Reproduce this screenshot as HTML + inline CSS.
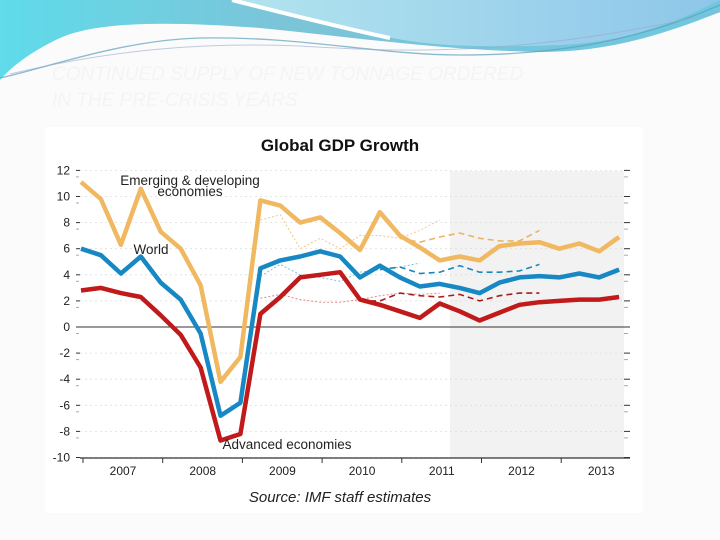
<!DOCTYPE html>
<html><head><meta charset="utf-8">
<style>
html,body{margin:0;padding:0;width:720px;height:540px;overflow:hidden;background:#fbfbfb;font-family:"Liberation Sans",sans-serif;}
#slide{position:relative;width:720px;height:540px;}
svg{position:absolute;left:0;top:0;}
</style></head>
<body>
<div id="slide">
<svg width="720" height="540">
  <defs>
    <linearGradient id="g1" x1="0" y1="0" x2="1" y2="0">
      <stop offset="0" stop-color="#5fdbea"/><stop offset="0.4" stop-color="#7cc4d8"/><stop offset="1" stop-color="#6fc8e0"/>
    </linearGradient>
    <linearGradient id="g2" x1="0" y1="0" x2="1" y2="0">
      <stop offset="0" stop-color="#b2e4ee"/><stop offset="1" stop-color="#8ec6ea"/>
    </linearGradient>
  </defs>
  <path d="M0,0 H720 V12 C650,40 600,52 540,52 C440,50 360,38 260,28 C180,22 100,20 60,38 C30,52 10,68 0,80 Z" fill="url(#g1)"/>
  <path d="M235,0 H720 V0 C680,20 630,42 560,45 C480,48 420,46 380,35 C320,20 270,8 235,0 Z" fill="url(#g2)"/>
  <path d="M232,0 C280,12 330,25 390,38" stroke="#fff" stroke-width="4" fill="none"/>
  <path d="M0,78 C40,70 120,40 200,38 C300,36 380,55 460,55 C560,55 640,40 720,5" stroke="#5aa0b8" stroke-width="1.3" fill="none" opacity="0.7"/>
  <path d="M10,74 C110,50 200,42 300,46 C400,52 520,58 720,12" stroke="#9ac" stroke-width="1" fill="none" opacity="0.6"/>
  <text x="52" y="80" font-size="19" font-style="italic" fill="#f4f4f4">CONTINUED SUPPLY OF NEW TONNAGE ORDERED</text>
  <text x="52" y="106" font-size="19" font-style="italic" fill="#f4f4f4">IN THE PRE-CRISIS YEARS</text>
</svg>
<svg id="chart" width="720" height="540"></svg>
</div>
<script>
const years = ["2007","2008","2009","2010","2011","2012","2013"];
const yTicks = [12,10,8,6,4,2,0,-2,-4,-6,-8,-10];
const emerging = [11.1,9.8,6.3,10.6,7.3,6.0,3.2,-4.2,-2.3,9.7,9.3,8.0,8.4,7.2,5.9,8.8,7.0,6.1,5.1,5.4,5.1,6.2,6.4,6.5,6.0,6.4,5.8,6.9];
const world = [6.0,5.5,4.1,5.4,3.4,2.1,-0.5,-6.8,-5.8,4.5,5.1,5.4,5.8,5.4,3.8,4.7,3.8,3.1,3.3,3.0,2.6,3.4,3.8,3.9,3.8,4.1,3.8,4.4];
const advanced = [2.8,3.0,2.6,2.3,0.9,-0.6,-3.1,-8.7,-8.2,1.0,2.3,3.8,4.0,4.2,2.1,1.7,1.2,0.7,1.8,1.2,0.5,1.1,1.7,1.9,2.0,2.1,2.1,2.3];
const emergingFcStart = 16;
const emergingFc = [6.8,6.5,6.9,7.2,6.8,6.6,6.6,7.4];
const worldFcStart = 15;
const worldFc = [4.4,4.6,4.1,4.2,4.7,4.2,4.2,4.3,4.8];
const advancedFcStart = 14;
const advancedFc = [2.0,2.0,2.6,2.4,2.3,2.5,2.0,2.4,2.6,2.6];
const emergingDotStart = 9;
const emergingDot = [8.2,8.6,6.0,6.8,6.0,7.0,7.0,6.8,7.4,8.2];
const worldDotStart = 9;
const worldDot = [3.9,4.8,4.0,3.8,3.5,4.2,4.4,4.6,4.9];
const advancedDotStart = 9;
const advancedDot = [2.2,2.5,2.1,1.9,1.9,2.1,2.4,2.6,2.5,2.6];

const NS="http://www.w3.org/2000/svg";
const svg=document.getElementById('chart');
const X0=81, DX=19.93;
const xs=i=>X0+DX*i;
const ys=v=>327-v*13.05;
function el(t,a,p){const e=document.createElementNS(NS,t);for(const k in a)e.setAttribute(k,a[k]);(p||svg).appendChild(e);return e;}

const panel=el('rect',{x:45,y:127,width:598,height:386,fill:'#ffffff'});


const shade=el('rect',{x:450,y:171,width:174,height:287,fill:'#f2f2f2'});


const title=el('text',{x:340,y:151,'font-size':17,'font-weight':'bold','text-anchor':'middle',fill:'#111'});
title.textContent='Global GDP Growth';



yTicks.forEach(v=>{
  const y=ys(v);
  if(v!==0){const g=el('line',{x1:80,x2:624,y1:y,y2:y,stroke:'#ddd','stroke-dasharray':'2,3','stroke-width':0.8});
  }
  const t=el('text',{x:70,y:y+4,'font-size':12,'text-anchor':'end',fill:'#222'});
  t.textContent=v;
  
  
  el('line',{x1:76,x2:80,y1:y,y2:y,stroke:'#333'});
  el('line',{x1:624,x2:630,y1:y,y2:y,stroke:'#333'});
  if(v!==-10){
  el('line',{x1:76,x2:79,y1:y+6.5,y2:y+6.5,stroke:'#aaa'});
  el('line',{x1:624,x2:628,y1:y+6.5,y2:y+6.5,stroke:'#aaa'});}
});
const zero=el('line',{x1:80,x2:630,y1:ys(0),y2:ys(0),stroke:'#333','stroke-width':1});

const xa=el('line',{x1:80,x2:630,y1:458,y2:458,stroke:'#333','stroke-width':1.2});

years.forEach((yr,k)=>{
  const x=83+79.7*k;
  el('line',{x1:x,x2:x,y1:458,y2:463,stroke:'#333'});
  const t=el('text',{x:x+40,y:475,'font-size':12,'text-anchor':'middle',fill:'#222'});
  t.textContent=yr;
  
  
});
function line(arr,start,color,w,dash,name){
  const pts=arr.map((v,i)=>xs(i+start).toFixed(1)+','+ys(v).toFixed(1)).join(' ');
  const p=el('polyline',{points:pts,fill:'none',stroke:color,'stroke-width':w,'stroke-linejoin':'round'});
  if(dash)p.setAttribute('stroke-dasharray',dash);
  
  
}
line(emergingDot,emergingDotStart,'#f0c888',1,'2,2','emerging-old-forecast');
line(worldDot,worldDotStart,'#7ec0dd',1,'2,2','world-old-forecast');
line(advancedDot,advancedDotStart,'#d88',1,'2,2','advanced-old-forecast');
line(emergingFc,emergingFcStart,'#e8b467',1.6,'6,4','emerging-forecast');
line(worldFc,worldFcStart,'#1a88bb',1.6,'6,4','world-forecast');
line(advancedFc,advancedFcStart,'#a81c1c',1.6,'6,4','advanced-forecast');
line(emerging,0,'#f0b860',4.5,null,'emerging-series');
line(world,0,'#1788c4',4.5,null,'world-series');
line(advanced,0,'#c01a1a',4.5,null,'advanced-series');

function lab(txt,x,y,name){const t=el('text',{x:x,y:y,'font-size':13.5,'text-anchor':'middle',fill:'#222'});t.textContent=txt;
}
lab('Emerging & developing',190,185,'emerging-label');
lab('economies',190,196,'emerging-label-2');
lab('World',151,254,'world-label');
lab('Advanced economies',287,449,'advanced-label');
const src=el('text',{x:340,y:502,'font-size':15,'font-style':'italic','text-anchor':'middle',fill:'#222'});
src.textContent='Source: IMF staff estimates';


</script>
</body></html>
